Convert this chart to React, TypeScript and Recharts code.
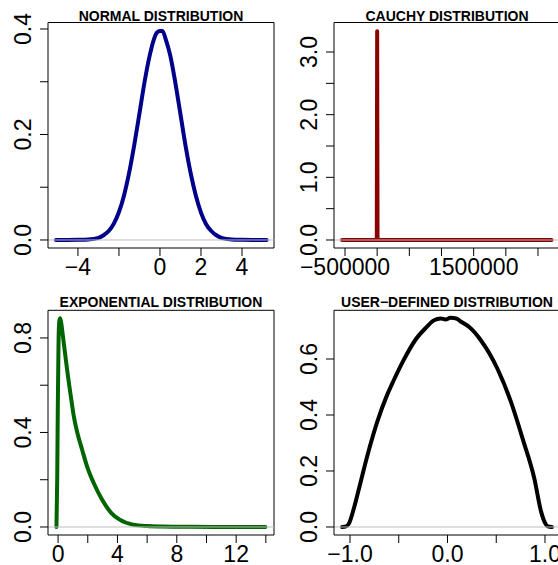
import React from 'react';
import { LineChart, Line, XAxis, YAxis, ReferenceLine } from 'recharts';

// ---------- data ----------
const normalX = [-5.07, -4.5, -4.0, -3.5, -3.0, -2.75, -2.5, -2.25, -2.0, -1.75, -1.5, -1.25, -1.0, -0.75, -0.5, -0.3, -0.15, 0.0, 0.12, 0.3, 0.5, 0.75, 1.0, 1.25, 1.5, 1.75, 2.0, 2.25, 2.5, 2.75, 3.0, 3.5, 4.0, 4.5, 5.2];
const normalY = [0.0, 0.0, 0.0003, 0.001, 0.004, 0.009, 0.017, 0.031, 0.053, 0.085, 0.128, 0.181, 0.24, 0.3, 0.35, 0.38, 0.393, 0.396, 0.396, 0.378, 0.35, 0.298, 0.238, 0.178, 0.126, 0.084, 0.052, 0.03, 0.017, 0.009, 0.004, 0.001, 0.0003, 0.0, 0.0];

const cauchyX = [-546000, -6000, 0, 6000, 2710000];
const cauchyY = [0, 0, 3.33, 0, 0];

const expX = [-0.11, -0.06, -0.02, 0.03, 0.08, 0.14, 0.22, 0.32, 0.45, 0.6, 0.75, 0.9, 1.06, 1.3, 1.62, 1.95, 2.4, 2.96, 3.59, 4.15, 5.05, 6.0, 7.0, 8.5, 10.5, 12.5, 13.97];
const expY = [0.0, 0.2, 0.5, 0.78, 0.87, 0.883, 0.86, 0.81, 0.745, 0.67, 0.6, 0.535, 0.468, 0.398, 0.327, 0.257, 0.186, 0.116, 0.059, 0.031, 0.01, 0.004, 0.002, 0.001, 0.0, 0.0, 0.0];

const userX = [-1.08, -1.04, -1.01, -0.96, -0.89, -0.82, -0.72, -0.62, -0.55, -0.45, -0.33, -0.22, -0.14, -0.07, -0.02, 0.03, 0.09, 0.14, 0.22, 0.34, 0.51, 0.65, 0.78, 0.89, 0.96, 1.0, 1.03, 1.07];
const userY = [0.0, 0.002, 0.013, 0.067, 0.162, 0.257, 0.376, 0.471, 0.525, 0.596, 0.668, 0.712, 0.738, 0.745, 0.741, 0.747, 0.745, 0.733, 0.715, 0.668, 0.567, 0.448, 0.305, 0.174, 0.055, 0.015, 0.002, 0.0];

const normalXTicks = [-4, -2, 0, 2, 4];
const normalXLabels: [number, string][] = [[-4, '\u22124'], [0, '0'], [2, '2'], [4, '4']];
const normalYTicks = [0, 0.1, 0.2, 0.3, 0.4];
const normalYLabels: [number, string][] = [[0, '0.0'], [0.2, '0.2'], [0.4, '0.4']];

const cauchyXTicks = [-500000, 0, 500000, 1000000, 1500000, 2000000, 2500000];
const cauchyXLabels: [number, string][] = [[-500000, '\u2212500000'], [1500000, '1500000']];
const cauchyYTicks = [0, 0.5, 1, 1.5, 2, 2.5, 3];
const cauchyYLabels: [number, string][] = [[0, '0.0'], [1, '1.0'], [2, '2.0'], [3, '3.0']];

const expXTicks = [0, 2, 4, 6, 8, 10, 12, 14];
const expXLabels: [number, string][] = [[0, '0'], [4, '4'], [8, '8'], [12, '12']];
const expYTicks = [0, 0.2, 0.4, 0.6, 0.8];
const expYLabels: [number, string][] = [[0, '0.0'], [0.4, '0.4'], [0.8, '0.8']];

const userXTicks = [-1, -0.5, 0, 0.5, 1];
const userXLabels: [number, string][] = [[-1, '\u22121.0'], [0, '0.0'], [1, '1.0']];
const userYTicks = [0, 0.2, 0.4, 0.6];
const userYLabels: [number, string][] = [[0, '0.0'], [0.2, '0.2'], [0.4, '0.4'], [0.6, '0.6']];

const FONT = '"Liberation Sans", Arial, Helvetica, sans-serif';

const findLabel = (labels: [number, string][], v: number) => {
  const f = labels.find((l) => Math.abs(l[0] - v) < 1e-9 * Math.max(1, Math.abs(v)) + 1e-9);
  return f ? f[1] : undefined;
};

const makeXTick = (labels: [number, string][]) => (props: any) => {
  const { x, y, payload } = props;
  const lab = findLabel(labels, Number(payload.value));
  if (lab === undefined) return <g />;
  return (
    <text x={x} y={y + 16.5} textAnchor="middle" fontSize={23} fontFamily={FONT} fill="#000">
      {lab}
    </text>
  );
};

const makeYTick = (labels: [number, string][]) => (props: any) => {
  const { x, y, payload } = props;
  const lab = findLabel(labels, Number(payload.value));
  if (lab === undefined) return <g />;
  const bx = x - 7;
  return (
    <text x={bx} y={y} textAnchor="middle" fontSize={23} fontFamily={FONT} fill="#000" transform={`rotate(-90, ${bx}, ${y})`}>
      {lab}
    </text>
  );
};

type PanelProps = {
  left: number; top: number; w: number; h: number;
  L: number; T: number; R: number; B: number;
  xDomain: [number, number]; yDomain: [number, number];
  xTicks: number[]; yTicks: number[];
  xLabels: [number, string][]; yLabels: [number, string][];
  xs: number[]; ys: number[];
  color: string; title: string; titleY: number;
  curve: 'monotone' | 'linear';
};

const Panel = (p: PanelProps) => {
  const data = p.xs.map((x, i) => ({ x, y: p.ys[i] }));
  const zero = [{ x: p.xDomain[0], y: 0 }, { x: p.xDomain[1], y: 0 }];
  return (
    <div style={{ position: 'absolute', left: p.left, top: p.top, width: p.w, height: p.h }}>
      <LineChart width={p.w} height={p.h} margin={{ top: p.T, left: 0, right: p.w - p.R, bottom: 0 }}>
        <XAxis
          type="number"
          dataKey="x"
          domain={p.xDomain}
          allowDataOverflow
          ticks={p.xTicks}
          interval={0}
          height={p.h - p.B}
          tickSize={8}
          tickLine={{ stroke: '#000', strokeWidth: 1 }}
          axisLine={{ stroke: '#000', strokeWidth: 1 }}
          tick={makeXTick(p.xLabels)}
        />
        <YAxis
          type="number"
          dataKey="y"
          domain={p.yDomain}
          allowDataOverflow
          ticks={p.yTicks}
          interval={0}
          width={p.L}
          tickSize={8}
          tickLine={{ stroke: '#000', strokeWidth: 1 }}
          axisLine={{ stroke: '#000', strokeWidth: 1 }}
          tick={makeYTick(p.yLabels)}
        />
        <ReferenceLine y={p.yDomain[1]} stroke="#000" strokeWidth={1} ifOverflow="visible" />
        <ReferenceLine x={p.xDomain[1]} stroke="#000" strokeWidth={1} ifOverflow="visible" />
        <Line
          data={data}
          dataKey="y"
          type={p.curve}
          stroke={p.color}
          strokeWidth={4}
          strokeLinecap="round"
          strokeLinejoin="round"
          dot={false}
          activeDot={false}
          isAnimationActive={false}
        />
        <Line
          data={zero}
          dataKey="y"
          type="linear"
          stroke="#BEBEBE"
          strokeWidth={1}
          dot={false}
          activeDot={false}
          isAnimationActive={false}
        />
        <text x={(p.L + p.R) / 2} y={p.titleY} textAnchor="middle" fontSize={14} fontWeight="bold" fontFamily={FONT} fill="#000">
          {p.title}
        </text>
      </LineChart>
    </div>
  );
};

export default function App() {
  return (
    <div style={{ position: 'absolute', left: 0, top: 0, width: 558, height: 565, overflow: 'hidden', background: '#fff' }}>
      <Panel
        left={0} top={0} w={279} h={283} L={48} T={22.5} R={274} B={248}
        xDomain={[-5.46, 5.56]} yDomain={[-0.0152, 0.4123]}
        xTicks={normalXTicks} yTicks={normalYTicks} xLabels={normalXLabels} yLabels={normalYLabels}
        xs={normalX} ys={normalY} color="#00008B" title="NORMAL DISTRIBUTION" titleY={20.5} curve="monotone"
      />
      <Panel
        left={279} top={0} w={290} h={283} L={55} T={22.5} R={281} B={248}
        xDomain={[-671000, 2842000]} yDomain={[-0.1277, 3.471]}
        xTicks={cauchyXTicks} yTicks={cauchyYTicks} xLabels={cauchyXLabels} yLabels={cauchyYLabels}
        xs={cauchyX} ys={cauchyY} color="#8B0000" title="CAUCHY DISTRIBUTION" titleY={20.5} curve="linear"
      />
      <Panel
        left={0} top={283} w={279} h={282} L={48} T={27.3} R={274} B={252}
        xDomain={[-0.68, 14.55]} yDomain={[-0.0339, 0.917]}
        xTicks={expXTicks} yTicks={expYTicks} xLabels={expXLabels} yLabels={expYLabels}
        xs={expX} ys={expY} color="#006400" title="EXPONENTIAL DISTRIBUTION" titleY={24} curve="monotone"
      />
      <Panel
        left={279} top={283} w={290} h={282} L={55} T={27.3} R={281} B={252}
        xDomain={[-1.164, 1.154]} yDomain={[-0.0286, 0.774]}
        xTicks={userXTicks} yTicks={userYTicks} xLabels={userXLabels} yLabels={userYLabels}
        xs={userX} ys={userY} color="#000000" title={'USER\u2212DEFINED DISTRIBUTION'} titleY={24} curve="monotone"
      />
    </div>
  );
}
